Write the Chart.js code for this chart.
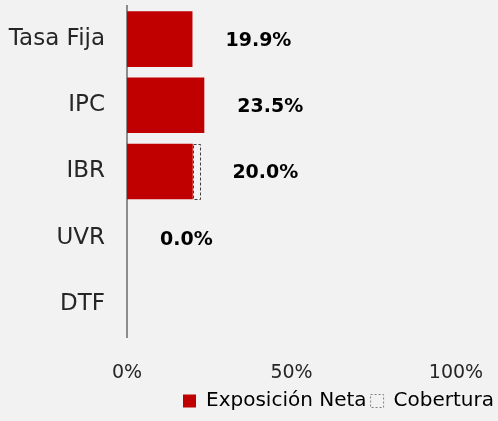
<!DOCTYPE html>
<html>
<head>
<meta charset="utf-8">
<script src="https://cdn.jsdelivr.net/npm/chart.js@4"></script>
<style>
  html, body { margin: 0; padding: 0; background: #f2f2f2; }
  #wrap { width: 498px; height: 421px; }
</style>
</head>
<body>
<div id="wrap"><canvas id="chart" width="498" height="421"></canvas></div>
<script>
// Data
const categories = ['Tasa Fija', 'IPC', 'IBR', 'UVR', 'DTF'];
const exposicionNeta = [19.9, 23.5, 20.0, 0, null];
const cobertura = [0, 0, 2, 0, 0];
const valueLabels = ['19.9%', '23.5%', '20.0%', '0.0%', ''];
const xTicks = [0, 50, 100];

const FONT = 'DejaVu Sans';
const RED = '#c00000';

// Dashed outline for the Cobertura bars (Chart.js bars have no borderDash)
const dashedBars = {
  id: 'dashedBars',
  afterDatasetsDraw(chart) {
    const meta = chart.getDatasetMeta(1);
    const ctx = chart.ctx;
    ctx.save();
    ctx.setLineDash([3, 2]);
    ctx.strokeStyle = '#404040';
    ctx.lineWidth = 1;
    meta.data.forEach((bar, i) => {
      if (!cobertura[i]) return;
      const { x, y, base, height } = bar.getProps(['x', 'y', 'base', 'height'], true);
      ctx.strokeRect(Math.round(base) + 0.5, Math.round(y - height / 2) + 0.5, Math.round(x - base), Math.round(height) - 1);
    });
    ctx.restore();
  },
};

// Value labels to the right of each bar
const valueLabelPlugin = {
  id: 'valueLabels',
  afterDatasetsDraw(chart) {
    const ctx = chart.ctx;
    const xs = chart.scales.x;
    const ys = chart.scales.y;
    ctx.save();
    ctx.font = `bold 19px "${FONT}"`;
    ctx.fillStyle = '#000';
    ctx.textAlign = 'left';
    ctx.textBaseline = 'middle';
    categories.forEach((c, i) => {
      if (!valueLabels[i]) return;
      const total = (exposicionNeta[i] || 0) + (cobertura[i] || 0);
      ctx.fillText(valueLabels[i], xs.getPixelForValue(total) + 33, ys.getPixelForValue(i) + 2);
    });
    ctx.restore();
  },
};

new Chart(document.getElementById('chart'), {
  type: 'bar',
  data: {
    labels: categories,
    datasets: [
      {
        label: 'Exposición Neta',
        data: exposicionNeta,
        backgroundColor: RED,
        borderWidth: 0,
        categoryPercentage: 1,
        barPercentage: 0.84,
      },
      {
        label: 'Cobertura',
        data: cobertura,
        backgroundColor: 'rgba(0,0,0,0)',
        borderWidth: 0,
        categoryPercentage: 1,
        barPercentage: 0.84,
      },
    ],
  },
  options: {
    indexAxis: 'y',
    responsive: false,
    animation: false,
    layout: { padding: { top: 6, right: 0, left: 0, bottom: 0 } },
    plugins: {
      tooltip: { enabled: false },
      legend: {
        position: 'bottom',
        align: 'end',
        labels: {
          color: '#262626',
          font: { family: FONT, size: 20 },
          boxWidth: 13,
          boxHeight: 13,
          padding: 4,
          generateLabels: () => [
            { text: 'Exposición Neta', fillStyle: RED, strokeStyle: RED, lineWidth: 0, datasetIndex: 0 },
            { text: 'Cobertura', fillStyle: 'rgba(0,0,0,0)', strokeStyle: '#7f7f7f', lineWidth: 1, lineDash: [2, 2], datasetIndex: 1 },
          ],
        },
      },
    },
    scales: {
      x: {
        stacked: true,
        min: 0,
        max: 100,
        afterBuildTicks: (scale) => { scale.ticks = xTicks.map((v) => ({ value: v })); },
        afterFit: (scale) => {
          scale.height = 50;
          scale.paddingLeft = 0;
          scale.paddingRight = 42;
        },
        grid: { display: false, drawTicks: false },
        border: { display: false },
        ticks: {
          color: '#262626',
          font: { family: FONT, size: 19 },
          padding: 25,
          maxRotation: 0,
          callback: (v) => v + '%',
        },
      },
      y: {
        stacked: true,
        grid: { display: false, drawTicks: false },
        border: { display: true, color: '#8c8c8c', width: 2 },
        afterFit: (scale) => {
          scale.width = 127;
          scale.paddingTop = 0;
          scale.paddingBottom = 0;
        },
        ticks: {
          color: '#262626',
          font: { family: FONT, size: 23 },
          padding: 22,
        },
      },
    },
  },
  plugins: [dashedBars, valueLabelPlugin],
});
</script>
</body>
</html>
